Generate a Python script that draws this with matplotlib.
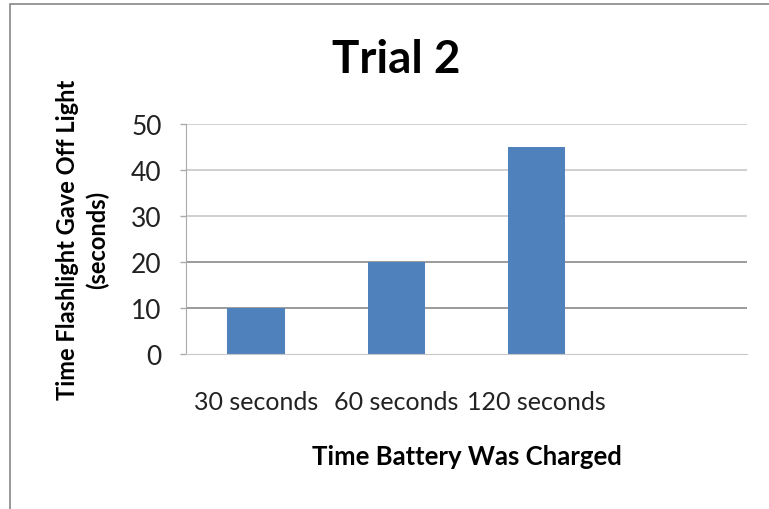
import matplotlib.pyplot as plt
from matplotlib.patches import Rectangle

categories = ['30 seconds', '60 seconds', '120 seconds', '']
values = [10, 20, 45, 0]
y_ticks = [0, 10, 20, 30, 40, 50]

plt.rcParams['font.family'] = ['Lato', 'DejaVu Sans']

fig = plt.figure(figsize=(7.69, 5.10), dpi=100)
ax = fig.add_axes([186 / 769, 1 - 355 / 510, 561 / 769, 230 / 510])

# gridlines (10 and 20 look darker in the original)
for t in y_ticks[1:]:
    c = '#8a8a8a' if t in (10, 20) else '#c8c8c8'
    ax.axhline(t, color=c, lw=1.2, zorder=0)

x = range(len(categories))
ax.bar(x, values, width=0.41, color='#4f81bd', zorder=2)

ax.set_xlim(-0.5, len(categories) - 0.5)
ax.set_ylim(0, 50)
ax.set_yticks(y_ticks)
ax.set_xticks(list(x))
ax.set_xticklabels(categories, fontsize=18, color='#222222')
ax.tick_params(axis='x', length=0, pad=26)
ax.tick_params(axis='y', length=4.5, width=1, color='#aaaaaa', labelsize=19,
               labelcolor='#222222', pad=13)

for s in ['top', 'right']:
    ax.spines[s].set_visible(False)
ax.spines['left'].set_color('#aaaaaa')
ax.spines['bottom'].set_color('#c8c8c8')

ax.set_xlabel('Time Battery Was Charged', fontsize=18.5, fontweight='bold', labelpad=22)
ax.set_ylabel('Time Flashlight Gave Off Light\n(seconds)', fontsize=17,
              fontweight='bold', labelpad=16, linespacing=1.3)

fig.text(396 / 769, 1 - 60 / 510, 'Trial 2', fontsize=33, fontweight='bold',
         ha='center', va='center')

fig.patches.append(Rectangle((10 / 769, -0.1), 1.0, 1 - 5 / 510 + 0.1,
                             transform=fig.transFigure, fill=False,
                             edgecolor='#888888', lw=1.2))

fig.savefig('out.png', dpi=100)
